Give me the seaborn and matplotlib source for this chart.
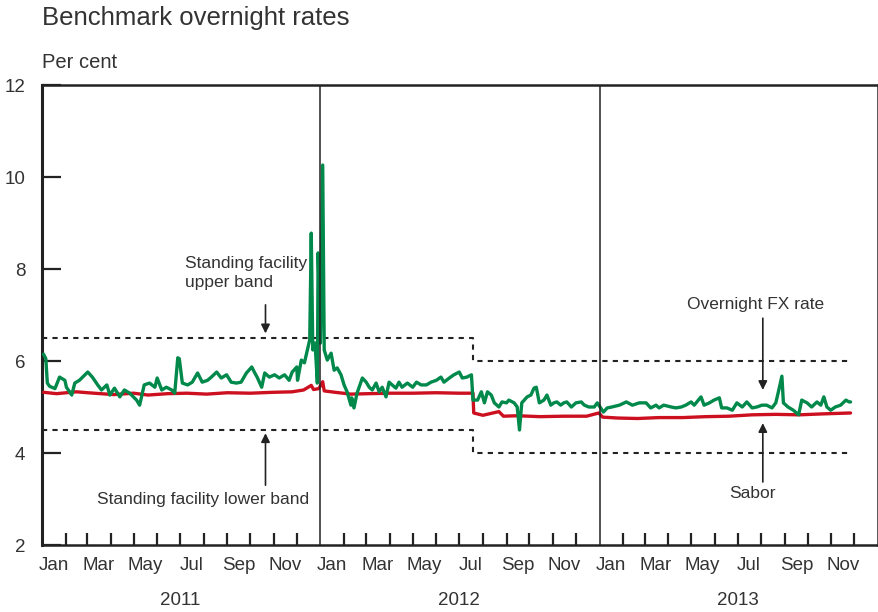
import matplotlib.pyplot as plt
import pandas as pd
import seaborn as sns


# Overnight FX rate (per cent)
fx_dates = [
    '2011-01-03', '2011-01-06', '2011-01-08', '2011-01-11', '2011-01-18', '2011-01-24',
    '2011-01-31', '2011-02-02', '2011-02-09', '2011-02-13', '2011-02-19', '2011-03-02',
    '2011-03-08', '2011-03-15', '2011-03-20', '2011-03-27', '2011-03-31', '2011-04-06',
    '2011-04-13', '2011-04-19', '2011-04-26', '2011-05-05', '2011-05-09', '2011-05-15',
    '2011-05-22', '2011-05-29', '2011-06-01', '2011-06-07', '2011-06-13', '2011-06-20',
    '2011-06-24', '2011-06-28', '2011-06-30', '2011-07-04', '2011-07-11', '2011-07-17',
    '2011-07-24', '2011-07-30', '2011-08-06', '2011-08-11', '2011-08-18', '2011-08-24',
    '2011-08-31', '2011-09-06', '2011-09-13', '2011-09-19', '2011-09-26', '2011-10-03',
    '2011-10-07', '2011-10-10', '2011-10-16', '2011-10-20', '2011-10-26', '2011-11-02',
    '2011-11-08', '2011-11-15', '2011-11-21', '2011-11-25', '2011-12-01', '2011-12-02',
    '2011-12-07', '2011-12-11', '2011-12-15', '2011-12-18', '2011-12-20', '2011-12-22',
    '2011-12-25', '2011-12-28', '2011-12-29', '2012-01-01', '2012-01-04', '2012-01-06',
    '2012-01-10', '2012-01-15', '2012-01-19', '2012-01-23', '2012-01-28', '2012-02-01',
    '2012-02-05', '2012-02-10', '2012-02-11', '2012-02-14', '2012-02-18', '2012-02-25',
    '2012-03-01', '2012-03-05', '2012-03-09', '2012-03-14', '2012-03-18', '2012-03-22',
    '2012-03-27', '2012-03-31', '2012-04-04', '2012-04-09', '2012-04-13', '2012-04-17',
    '2012-04-24', '2012-05-01', '2012-05-06', '2012-05-12', '2012-05-19', '2012-05-25',
    '2012-06-01', '2012-06-07', '2012-06-11', '2012-06-18', '2012-06-24', '2012-07-01',
    '2012-07-05', '2012-07-11', '2012-07-17', '2012-07-19', '2012-07-25', '2012-07-30',
    '2012-08-03', '2012-08-07', '2012-08-12', '2012-08-16', '2012-08-22', '2012-08-26',
    '2012-09-01', '2012-09-04', '2012-09-11', '2012-09-15', '2012-09-18', '2012-09-21',
    '2012-09-28', '2012-10-03', '2012-10-07', '2012-10-10', '2012-10-14', '2012-10-20',
    '2012-10-24', '2012-10-29', '2012-11-02', '2012-11-06', '2012-11-11', '2012-11-15',
    '2012-11-19', '2012-11-25', '2012-12-01', '2012-12-08', '2012-12-12', '2012-12-18',
    '2012-12-25', '2012-12-29', '2012-12-31', '2013-01-06', '2013-01-11', '2013-01-17',
    '2013-01-27', '2013-02-05', '2013-02-13', '2013-02-22', '2013-03-03', '2013-03-09',
    '2013-03-16', '2013-03-20', '2013-03-26', '2013-04-05', '2013-04-11', '2013-04-18',
    '2013-04-24', '2013-05-01', '2013-05-05', '2013-05-14', '2013-05-18', '2013-05-25',
    '2013-05-31', '2013-06-07', '2013-06-10', '2013-06-17', '2013-06-24', '2013-06-30',
    '2013-07-07', '2013-07-13', '2013-07-20', '2013-07-26', '2013-08-02', '2013-08-08',
    '2013-08-15', '2013-08-20', '2013-08-23', '2013-08-28', '2013-08-30', '2013-09-05',
    '2013-09-12', '2013-09-19', '2013-09-23', '2013-09-30', '2013-10-06', '2013-10-13',
    '2013-10-18', '2013-10-22', '2013-10-26', '2013-10-31', '2013-11-06', '2013-11-13',
    '2013-11-20', '2013-11-24', '2013-11-26',
]
fx_rate = [
    6.15, 6.05, 5.52, 5.45, 5.40, 5.65,
    5.58, 5.43, 5.26, 5.52, 5.58, 5.76,
    5.65, 5.48, 5.37, 5.48, 5.26, 5.41,
    5.22, 5.37, 5.30, 5.15, 5.04, 5.48,
    5.52, 5.43, 5.63, 5.37, 5.43, 5.37,
    5.30, 6.07, 6.05, 5.52, 5.48, 5.54,
    5.74, 5.54, 5.58, 5.65, 5.76, 5.63,
    5.70, 5.54, 5.52, 5.54, 5.74, 5.87,
    5.74, 5.65, 5.43, 5.74, 5.65, 5.70,
    5.63, 5.70, 5.58, 5.76, 5.87, 5.58,
    6.02, 5.96, 6.24, 6.46, 8.78, 6.24,
    6.39, 5.52, 8.35, 6.39, 10.26, 6.24,
    6.02, 6.17, 5.80, 5.85, 5.70, 5.48,
    5.33, 5.04, 5.20, 4.98, 5.30, 5.63,
    5.54, 5.43, 5.37, 5.52, 5.33, 5.43,
    5.22, 5.54, 5.48, 5.41, 5.54, 5.43,
    5.52, 5.43, 5.54, 5.48, 5.48, 5.54,
    5.58, 5.65, 5.54, 5.63, 5.70, 5.76,
    5.63, 5.65, 5.70, 5.15, 5.15, 5.33,
    5.09, 5.33, 5.26, 5.09, 5.00, 5.11,
    5.09, 5.15, 5.09, 5.00, 4.50, 5.09,
    5.22, 5.26, 5.41, 5.43, 5.09, 5.15,
    5.26, 5.04, 5.09, 5.11, 5.04, 5.09,
    5.11, 5.00, 5.09, 5.11, 5.04, 5.00,
    5.00, 5.09, 5.04, 4.89, 4.98, 5.00,
    5.04, 5.11, 5.04, 5.09, 5.09, 4.98,
    5.04, 4.98, 5.04, 5.00, 4.98, 5.00,
    5.04, 5.11, 5.04, 5.22, 5.04, 5.09,
    5.15, 5.20, 4.98, 4.98, 4.93, 5.09,
    5.00, 5.11, 4.98, 5.00, 5.04, 5.04,
    4.98, 5.09, 5.30, 5.67, 5.09, 5.00,
    4.93, 4.83, 5.15, 5.09, 5.00, 5.11,
    5.04, 5.22, 5.00, 4.93, 5.00, 5.04,
    5.15, 5.11, 5.11,
]

# Sabor (per cent)
sabor_dates = [
    '2011-01-03', '2011-01-20', '2011-02-15', '2011-03-10', '2011-04-05', '2011-05-01',
    '2011-05-20', '2011-06-15', '2011-07-10', '2011-08-05', '2011-09-01', '2011-10-01',
    '2011-11-01', '2011-11-25', '2011-12-10', '2011-12-20', '2011-12-23', '2011-12-30',
    '2012-01-04', '2012-01-06', '2012-01-20', '2012-02-10', '2012-03-05', '2012-04-01',
    '2012-05-01', '2012-06-01', '2012-07-01', '2012-07-19', '2012-07-20', '2012-08-01',
    '2012-08-22', '2012-08-28', '2012-09-15', '2012-10-15', '2012-11-15', '2012-12-15',
    '2012-12-31', '2013-01-05', '2013-01-25', '2013-02-20', '2013-03-20', '2013-04-20',
    '2013-05-20', '2013-06-20', '2013-07-20', '2013-08-20', '2013-09-20', '2013-10-20',
    '2013-11-26',
]
sabor_rate = [
    5.32, 5.29, 5.33, 5.30, 5.27, 5.30,
    5.26, 5.29, 5.30, 5.28, 5.31, 5.30,
    5.32, 5.33, 5.37, 5.47, 5.38, 5.40,
    5.55, 5.35, 5.32, 5.28, 5.29, 5.30,
    5.30, 5.31, 5.30, 5.30, 4.87, 4.82,
    4.90, 4.80, 4.81, 4.79, 4.80, 4.80,
    4.87, 4.78, 4.76, 4.75, 4.77, 4.77,
    4.79, 4.80, 4.83, 4.84, 4.83, 4.85,
    4.87,
]

# Standing facility bands
band_dates = ['2011-01-01', '2012-07-19', '2013-11-26']
upper_band = [6.5, 6.0, 6.0]
lower_band = [4.5, 4.0, 4.0]

month_labels = ['Jan', 'Mar', 'May', 'Jul', 'Sep', 'Nov']
years = [2011, 2012, 2013]

GREEN = '#00894a'
RED = '#cc1020'
TEXT = '#333333'

sns.set_theme(style='white')
plt.rcParams['font.family'] = ['Liberation Sans', 'DejaVu Sans']

fx = pd.DataFrame({'date': pd.to_datetime(fx_dates), 'rate': fx_rate})
sabor = pd.DataFrame({'date': pd.to_datetime(sabor_dates), 'rate': sabor_rate})
bands = pd.DataFrame({'date': pd.to_datetime(band_dates), 'upper': upper_band, 'lower': lower_band})

fig = plt.figure(figsize=(8.79, 6.12), dpi=100)
ax = fig.add_axes([42 / 879, 67 / 612, 836 / 879, 460 / 612])

# bands
for col in ['upper', 'lower']:
    ax.step(bands['date'], bands[col], where='post', color='#222222', lw=1.5,
            linestyle=(0, (2.5, 2.5)), zorder=2)

sns.lineplot(data=sabor, x='date', y='rate', color=RED, lw=2.4, ax=ax, zorder=3)
sns.lineplot(data=fx, x='date', y='rate', color=GREEN, lw=2.4, ax=ax, zorder=4)

for y in years[1:]:
    ax.axvline(pd.Timestamp(y, 1, 1), color='#222222', lw=1.1, zorder=5)

ax.set_xlim(pd.Timestamp(2011, 1, 1), pd.Timestamp(2014, 1, 1))
ax.set_ylim(2, 12)
ax.set_xlabel('')
ax.set_ylabel('')

# axis ticks
ax.set_yticks([2, 4, 6, 8, 10, 12])
ax.tick_params(axis='y', direction='in', length=14, width=1.6, color='#222222',
               pad=12, labelsize=13.5, labelcolor=TEXT, left=True)

ax.set_xticks([pd.Timestamp(y, m, 16) for y in years for m in (1, 3, 5, 7, 9, 11)])
ax.set_xticklabels(month_labels * len(years))
ax.set_xticks([pd.Timestamp(y, m, 1) for y in years for m in range(2, 13)], minor=True)
ax.tick_params(axis='x', which='major', length=0, pad=9, labelsize=13.5, labelcolor=TEXT)
ax.tick_params(axis='x', which='minor', direction='in', length=9, width=1.6,
               color='#222222', bottom=True)

for y in years:
    ax.text(pd.Timestamp(y, 7, 1), -0.12, str(y), transform=ax.get_xaxis_transform(),
            ha='center', va='center', fontsize=13.5, color=TEXT)

for side in ['left', 'right', 'top', 'bottom']:
    ax.spines[side].set_visible(True)
    ax.spines[side].set_color('#222222')
    ax.spines[side].set_linewidth(1.8)
ax.spines['left'].set_linewidth(2.2)

# annotations
arrow = dict(arrowstyle='-|>', color='#222222', lw=1.2, mutation_scale=13, shrinkA=0, shrinkB=0)
ax.text(pd.Timestamp('2011-07-08'), 7.92, 'Standing facility\nupper band', ha='left', va='center',
        fontsize=12.5, color=TEXT, linespacing=1.35)
ax.annotate('', xy=(pd.Timestamp('2011-10-21'), 6.6), xytext=(pd.Timestamp('2011-10-21'), 7.22),
            arrowprops=arrow)
ax.text(pd.Timestamp('2011-07-31'), 2.98, 'Standing facility lower band', ha='center', va='center',
        fontsize=12.5, color=TEXT)
ax.annotate('', xy=(pd.Timestamp('2011-10-21'), 4.43), xytext=(pd.Timestamp('2011-10-21'), 3.3),
            arrowprops=arrow)
ax.text(pd.Timestamp('2013-07-24'), 7.22, 'Overnight FX rate', ha='center', va='center',
        fontsize=12.5, color=TEXT)
ax.annotate('', xy=(pd.Timestamp('2013-08-03'), 5.37), xytext=(pd.Timestamp('2013-08-03'), 6.93),
            arrowprops=arrow)
ax.text(pd.Timestamp('2013-07-20'), 3.13, 'Sabor', ha='center', va='center',
        fontsize=12.5, color=TEXT)
ax.annotate('', xy=(pd.Timestamp('2013-08-03'), 4.65), xytext=(pd.Timestamp('2013-08-03'), 3.37),
            arrowprops=arrow)

fig.text(42 / 879, 1 - 18 / 612, 'Benchmark overnight rates', ha='left', va='center',
         fontsize=18.5, color=TEXT)
fig.text(42 / 879, 1 - 62 / 612, 'Per cent', ha='left', va='center',
         fontsize=14.5, color=TEXT)

fig.savefig('out.png', dpi=100)
